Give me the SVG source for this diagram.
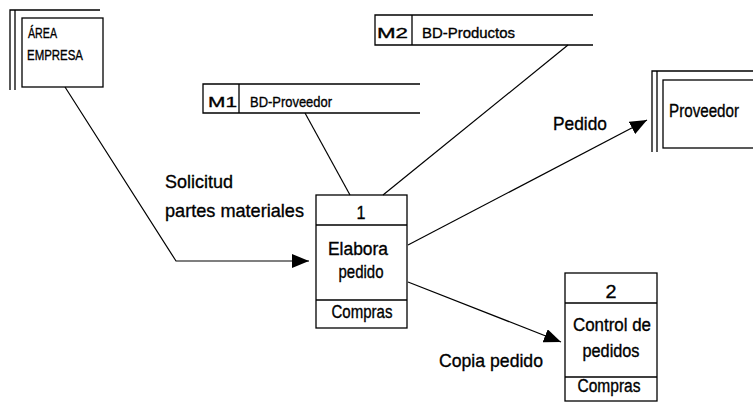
<svg xmlns="http://www.w3.org/2000/svg" width="753" height="405" viewBox="0 0 753 405">
<style>
.b{fill:none;stroke:#000;stroke-width:1.3}
.c{fill:none;stroke:#000;stroke-width:1.2}
text{font-family:"Liberation Sans",Arial,sans-serif;fill:#000;stroke:#000;stroke-width:0.35}
.t{font-size:19px}
.s{font-size:15px}
.m{font-size:18px}
</style>
<defs>
<marker id="ah" markerUnits="userSpaceOnUse" markerWidth="18" markerHeight="14" refX="17" refY="7" orient="auto">
<path d="M0,0 L17,7 L0,14 Z" fill="#000"/>
</marker>
</defs>
<rect width="753" height="405" fill="#fff"/>
<g id="area-empresa">
<path class="b" d="M10,90 V10 H100 M15,90 V10"/>
<rect class="b" x="22" y="18" width="81" height="69"/>
<text class="s" x="28" y="38" textLength="29" lengthAdjust="spacingAndGlyphs">ÁREA</text>
<text class="s" x="27" y="60" textLength="56" lengthAdjust="spacingAndGlyphs">EMPRESA</text>
</g>
<g id="m2">
<path class="b" d="M593,15 H375 V45 H593 M412,15 V45"/>
<text class="s" x="377" y="38" textLength="31" lengthAdjust="spacingAndGlyphs">M2</text>
<text class="s" x="422" y="38" textLength="93" lengthAdjust="spacingAndGlyphs">BD-Productos</text>
</g>
<g id="m1">
<path class="b" d="M420,84 H203 V113 H420 M239,84 V113"/>
<text class="s" x="208" y="107" textLength="29" lengthAdjust="spacingAndGlyphs">M1</text>
<text class="s" x="250" y="107" textLength="82" lengthAdjust="spacingAndGlyphs">BD-Proveedor</text>
</g>
<g id="proveedor">
<path class="b" d="M652,152 V71 H760 M657,152 V71"/>
<rect class="b" x="663" y="80" width="100" height="68"/>
<text class="t" transform="translate(669,117) scale(0.8,1)" x="0" y="0">Proveedor</text>
</g>
<g id="p1">
<rect class="b" x="316" y="195" width="91" height="133"/>
<path class="b" d="M316,225 H407 M316,300 H407"/>
<text class="t" x="361" y="219" text-anchor="middle" textLength="9" lengthAdjust="spacingAndGlyphs">1</text>
<text class="m" x="358" y="255" text-anchor="middle" textLength="60" lengthAdjust="spacingAndGlyphs">Elabora</text>
<text class="m" x="361" y="278" text-anchor="middle" textLength="45" lengthAdjust="spacingAndGlyphs">pedido</text>
<text class="m" x="362" y="318" text-anchor="middle" textLength="61" lengthAdjust="spacingAndGlyphs">Compras</text>
</g>
<g id="p2">
<rect class="b" x="565" y="273" width="92" height="128"/>
<path class="b" d="M565,303 H657 M565,377 H657"/>
<text class="t" x="611" y="298" text-anchor="middle" textLength="11" lengthAdjust="spacingAndGlyphs">2</text>
<text class="m" x="612" y="331" text-anchor="middle" textLength="78" lengthAdjust="spacingAndGlyphs">Control de</text>
<text class="m" x="611" y="357" text-anchor="middle" textLength="57" lengthAdjust="spacingAndGlyphs">pedidos</text>
<text class="m" x="609" y="392" text-anchor="middle" textLength="63" lengthAdjust="spacingAndGlyphs">Compras</text>
</g>
<g id="connectors">
<path class="c" d="M65,87 L176,261 H309" marker-end="url(#ah)"/>
<path class="c" d="M305,113 L350,195"/>
<path class="c" d="M568,45 L383,195"/>
<path class="c" d="M408,245 L647,120" marker-end="url(#ah)"/>
<path class="c" d="M408,282 L561,342" marker-end="url(#ah)"/>
<text class="t" x="165" y="188" textLength="68" lengthAdjust="spacingAndGlyphs">Solicitud</text>
<text class="t" x="165" y="217" textLength="139" lengthAdjust="spacingAndGlyphs">partes materiales</text>
<text class="t" x="553" y="130" textLength="54" lengthAdjust="spacingAndGlyphs">Pedido</text>
<text class="t" x="439" y="367" textLength="104" lengthAdjust="spacingAndGlyphs">Copia pedido</text>
</g>
</svg>
